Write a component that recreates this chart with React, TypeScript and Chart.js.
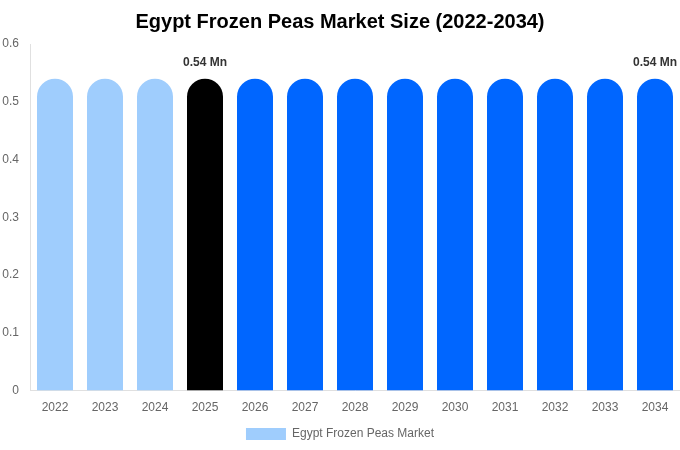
import React, { useEffect, useRef } from 'react';
import { Chart, registerables } from 'chart.js';

Chart.register(...registerables);

const years = ['2022', '2023', '2024', '2025', '2026', '2027', '2028', '2029', '2030', '2031', '2032', '2033', '2034'];
const marketSize = [0.54, 0.54, 0.54, 0.54, 0.54, 0.54, 0.54, 0.54, 0.54, 0.54, 0.54, 0.54, 0.54];
const barColors = [
  '#9fcdfd', '#9fcdfd', '#9fcdfd',
  '#000000',
  '#0066ff', '#0066ff', '#0066ff', '#0066ff', '#0066ff', '#0066ff', '#0066ff', '#0066ff', '#0066ff',
];
const labelledBars = [3, 12];
const yTicks = [0, 0.1, 0.2, 0.3, 0.4, 0.5, 0.6];

const FONT = 'Arial, "Liberation Sans", sans-serif';

// draws "0.54 Mn" above the highlighted bars
const valueLabels = {
  id: 'valueLabels',
  afterDatasetsDraw(chart: any) {
    const { ctx } = chart;
    const meta = chart.getDatasetMeta(0);
    ctx.save();
    ctx.font = `bold 12px ${FONT}`;
    ctx.fillStyle = '#333333';
    ctx.textAlign = 'center';
    ctx.textBaseline = 'bottom';
    labelledBars.forEach(i => {
      const bar = meta.data[i];
      ctx.fillText(`${marketSize[i]} Mn`, bar.x, bar.y - 10);
    });
    ctx.restore();
  },
};

const App: React.FC = () => {
  const chartRef = useRef<HTMLCanvasElement>(null);
  const chartInstanceRef = useRef<Chart | null>(null);

  useEffect(() => {
    if (!chartRef.current) return;
    const ctx = chartRef.current.getContext('2d');
    if (!ctx) return;

    chartInstanceRef.current = new Chart(ctx, {
      type: 'bar',
      data: {
        labels: years,
        datasets: [
          {
            label: 'Egypt Frozen Peas Market',
            data: marketSize,
            backgroundColor: barColors,
            borderRadius: 20,
            borderSkipped: 'bottom',
            barPercentage: 0.72,
            categoryPercentage: 1,
          },
        ],
      },
      options: {
        responsive: true,
        maintainAspectRatio: false,
        animation: false,
        layout: { padding: 0 },
        plugins: {
          title: {
            display: true,
            text: 'Egypt Frozen Peas Market Size (2022-2034)',
            color: '#000000',
            font: { size: 20, weight: 'bold', family: FONT },
            padding: { top: 10, bottom: 10 },
          },
          legend: {
            position: 'bottom',
            labels: {
              boxWidth: 40,
              boxHeight: 12,
              padding: 3,
              color: '#666666',
              font: { size: 12, family: FONT },
              generateLabels: () => [
                {
                  text: 'Egypt Frozen Peas Market',
                  fillStyle: barColors[0],
                  strokeStyle: barColors[0],
                  lineWidth: 0,
                  fontColor: '#666666',
                  hidden: false,
                  datasetIndex: 0,
                },
              ],
            },
          },
          tooltip: { enabled: false },
        },
        scales: {
          x: {
            grid: { display: false, drawTicks: false },
            border: { display: true, color: '#e0e0e0' },
            ticks: { color: '#666666', font: { size: 12, family: FONT }, padding: 10 },
            afterFit: (scale: any) => {
              scale.paddingLeft = 0;
              scale.paddingRight = 0;
            },
          },
          y: {
            min: 0,
            max: 0.6,
            afterBuildTicks: (axis: any) => {
              axis.ticks = yTicks.map(v => ({ value: v }));
            },
            afterFit: (scale: any) => {
              scale.width = 30;
            },
            grid: { display: false, drawTicks: false },
            border: { display: true, color: '#e0e0e0' },
            ticks: { color: '#666666', font: { size: 12, family: FONT }, padding: 11 },
          },
        },
      },
      plugins: [valueLabels],
    });

    return () => {
      if (chartInstanceRef.current) {
        chartInstanceRef.current.destroy();
        chartInstanceRef.current = null;
      }
    };
  }, []);

  return (
    <div style={{ position: 'fixed', left: 0, top: 0, width: '680px', height: '450px', background: '#ffffff' }}>
      <canvas ref={chartRef}></canvas>
    </div>
  );
};

export default App;
